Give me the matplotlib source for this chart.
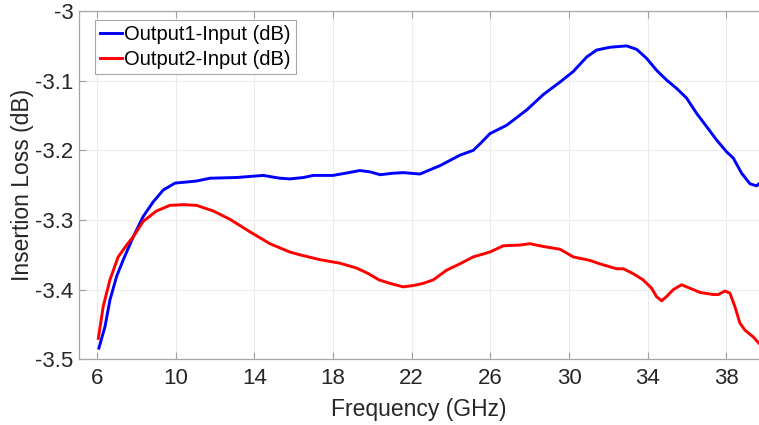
import matplotlib
matplotlib.use("Agg")
import matplotlib.pyplot as plt

plt.rcParams['font.family'] = ['Liberation Sans', 'DejaVu Sans']
plt.rcParams['axes.unicode_minus'] = False

# Output1-Input (blue)
freq1 = [6.10, 6.41, 6.66, 7.0, 7.34, 7.85, 8.35, 8.86, 9.37, 9.97, 10.73, 11.07, 11.75, 13.1,
         14.45, 15.3, 15.81, 16.5, 17.0, 18.0, 18.6, 19.37, 19.9, 20.4, 21.0, 21.57, 22.0, 22.42,
         23.44, 24.45, 25.13, 25.5, 25.98, 26.83, 27.85, 28.69, 29.54, 30.21, 30.90, 31.40,
         32.08, 32.93, 33.44, 33.95, 34.45, 34.96, 35.47, 35.98, 36.49, 37.0, 37.5, 38.01,
         38.35, 38.78, 39.2, 39.54, 39.66]
loss1 = [-3.484, -3.453, -3.415, -3.381, -3.357, -3.324, -3.295, -3.274, -3.257, -3.247, -3.245,
         -3.244, -3.240, -3.239, -3.236, -3.240, -3.241, -3.239, -3.236, -3.236, -3.233, -3.229,
         -3.231, -3.235, -3.233, -3.232, -3.233, -3.234, -3.222, -3.207, -3.200, -3.190, -3.176,
         -3.164, -3.142, -3.120, -3.102, -3.087, -3.066, -3.056, -3.052, -3.050, -3.055, -3.068,
         -3.085, -3.099, -3.111, -3.125, -3.147, -3.166, -3.185, -3.202, -3.211, -3.233, -3.248,
         -3.251, -3.248]

# Output2-Input (red)
freq2 = [6.07, 6.32, 6.66, 7.08, 7.51, 7.85, 8.35, 9.03, 9.71, 10.39, 11.07, 11.91, 12.76, 13.78,
         14.79, 15.81, 16.32, 17.34, 18.35, 19.2, 19.8, 20.34, 20.9, 21.57, 22.1, 22.59, 23.1,
         23.78, 24.45, 25.13, 25.98, 26.66, 27.51, 28.01, 28.69, 29.54, 30.22, 31.06, 31.57,
         32.42, 32.76, 33.26, 33.77, 34.2, 34.45, 34.71, 34.96, 35.30, 35.72, 36.15, 36.66,
         37.33, 37.59, 37.93, 38.18, 38.43, 38.69, 38.94, 39.37, 39.66]
loss2 = [-3.470, -3.424, -3.386, -3.353, -3.336, -3.324, -3.302, -3.287, -3.279, -3.278, -3.279,
         -3.287, -3.299, -3.317, -3.334, -3.346, -3.350, -3.357, -3.362, -3.369, -3.377, -3.386,
         -3.391, -3.396, -3.394, -3.391, -3.386, -3.372, -3.363, -3.353, -3.346, -3.337, -3.336,
         -3.334, -3.338, -3.342, -3.353, -3.358, -3.363, -3.370, -3.370, -3.377, -3.386, -3.398,
         -3.410, -3.416, -3.410, -3.400, -3.393, -3.398, -3.404, -3.407, -3.407, -3.402, -3.405,
         -3.424, -3.448, -3.458, -3.468, -3.477]

xticks = [6, 10, 14, 18, 22, 26, 30, 34, 38]
yticks = [-3.5, -3.4, -3.3, -3.2, -3.1, -3.0]
ytick_labels = ['-3.5', '-3.4', '-3.3', '-3.2', '-3.1', '-3']

fig = plt.figure(figsize=(7.59, 4.25), dpi=100)
ax = fig.add_axes([0.104, 0.1546, 0.896, 0.8194])

ax.plot(freq1, loss1, color='#0000ff', lw=2.1, solid_joinstyle='round', label='Output1-Input (dB)')
ax.plot(freq2, loss2, color='#ff0000', lw=2.1, solid_joinstyle='round', label='Output2-Input (dB)')

ax.set_xlim(5.085, 39.66)
ax.set_ylim(-3.5, -3.0)
ax.set_xticks(xticks)
ax.set_yticks(yticks)
ax.set_yticklabels(ytick_labels)
ax.tick_params(direction='in', length=5, width=0.8, color='#a0a0a0', labelsize=16,
               labelcolor='#262626', top=True, pad=4)
ax.tick_params(axis='x', pad=6)
ax.grid(True, color='#ebebeb', lw=0.8)
ax.set_axisbelow(True)
for side in ['left', 'bottom', 'top']:
    ax.spines[side].set_color('#a6a6a6')
    ax.spines[side].set_linewidth(0.9)
ax.spines['right'].set_visible(False)

ax.set_xlabel('Frequency (GHz)', fontsize=16.5, color='#262626', labelpad=7)
ax.set_ylabel('Insertion Loss (dB)', fontsize=16.5, color='#262626', labelpad=1)

leg = ax.legend(loc='upper left', bbox_to_anchor=(0.024, 0.975), fontsize=14.5,
                handlelength=1.1, handletextpad=0.1, borderpad=0.25, labelspacing=0.3,
                fancybox=False, framealpha=1, borderaxespad=0)
leg.get_frame().set_edgecolor('#a6a6a6')
leg.get_frame().set_linewidth(0.8)

fig.savefig('out.png', dpi=100)
